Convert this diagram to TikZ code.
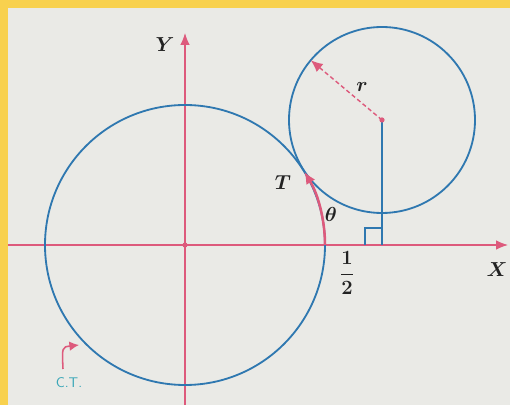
\documentclass[tikz,border=0pt]{standalone}
\usepackage{tikz}
\usetikzlibrary{arrows.meta,calc}
\definecolor{paper}{HTML}{EAEAE6}
\definecolor{frame}{HTML}{F8D14E}
\definecolor{axis}{HTML}{DD5A7C}
\definecolor{curve}{HTML}{2F78B0}
\definecolor{ctcol}{HTML}{3BA7B8}
\definecolor{ink}{HTML}{222222}
\tikzset{
  >=Latex,
  every node/.style={text=ink,inner sep=1pt},
  axisline/.style={-{Latex[length=3mm,width=2.4mm]},draw=axis,line width=0.9pt},
  circ/.style={draw=curve,line width=1.3pt},
  drop/.style={draw=curve,line width=1.6pt},
  radius line/.style={-{Latex[length=3mm,width=2.6mm]},draw=axis,line width=1pt,dash pattern=on 3pt off 2pt},
  thetaarc/.style={-{Latex[length=3mm,width=2.6mm]},draw=axis,line width=1.8pt},
  ctarrow/.style={-{Latex[length=2.4mm,width=2.4mm]},draw=axis,line width=1.1pt},
  rightangle/.style={draw=curve,line width=0.9pt},
  dot/.style={fill=axis,circle,inner sep=0pt,minimum size=1.3mm},
  axislabel/.style={font=\fontsize{15}{18}\selectfont\boldmath},
  mathlabel/.style={font=\fontsize{14}{17}\selectfont\boldmath},
  ctlabel/.style={font=\sffamily\fontsize{10}{11}\selectfont,text=ctcol},
}

\begin{document}
\begin{tikzpicture}[x=0.25mm,y=0.25mm]

% paper and frame
\useasboundingbox (-185,-160) rectangle (325,245);
\fill[paper] (-185,-160) rectangle (325,245);
\fill[frame] (-185,237) rectangle (325,245);
\fill[frame] (-185,-160) rectangle (-177,245);

% points
\coordinate (O) at (0,0);
\coordinate (C) at (197,125);
\coordinate (F) at (197,0);
\coordinate (A) at (140,0);
\coordinate (Xl) at (-177,0);
\coordinate (Xr) at (323,0);
\coordinate (Yb) at (0,-160);
\coordinate (Yt) at (0,212);
\coordinate (P) at ($(C)+(140:93)$);
\coordinate (ctfoot) at (-122,-124);
\coordinate (ctend) at (-106,-100);

% axes
\draw[axisline] (Xl) -- (Xr);
\draw[axisline] (Yb) -- (Yt);

% circles
\draw[circ] (O) circle[radius=140];
\draw[circ] (C) circle[radius=93];

% perpendicular from centre
\draw[drop] (C) -- (F);
\draw[rightangle] (F) ++(-17,0) |- ++(17,17);

% radius and angle
\draw[radius line] (C) -- (P);
\draw[thetaarc] (A) arc[start angle=0,end angle=31.5,radius=140];
\draw[ctarrow] (ctfoot) .. controls (-123,-102) .. (ctend);

\node[dot] (o) at (O) {};
\node[dot] (c) at (C) {};

% labels
\node[axislabel] (ylab) at (-20,200) {$Y$};
\node[axislabel] (xlab) at (312,-25) {$X$};
\node[mathlabel] (half) at (162,-28) {$\displaystyle\frac{1}{2}$};
\node[mathlabel] (tlab) at (98,62) {$T$};
\node[mathlabel] (theta) at (146,31) {$\theta$};
\node[mathlabel] (rlab) at (177,158) {$r$};
\node[ctlabel] (ct) at (-116,-138) {C.T.};

\end{tikzpicture}
\end{document}
